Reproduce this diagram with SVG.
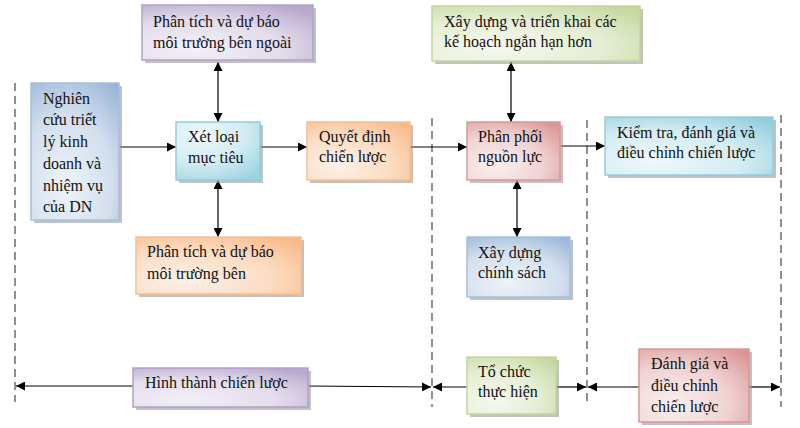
<svg xmlns="http://www.w3.org/2000/svg" width="800" height="428" viewBox="0 0 800 428">
<style>
text{font-family:'Liberation Serif','DejaVu Serif','Times New Roman',serif;font-size:16px;fill:#111}
.sh{fill:#9a9a9a;opacity:0.6}
.bx{stroke-width:1.5}
.pu{fill:url(#gPu);stroke:#b2a1c7}
.bl{fill:url(#gBl);stroke:#a7bfde}
.cy{fill:url(#gCy);stroke:#92cddc}
.or{fill:url(#gOr);stroke:#fabf8f}
.rd{fill:url(#gRd);stroke:#d99694}
.gr{fill:url(#gGr);stroke:#c3d69b}
.ln{stroke:#000;stroke-width:1.2;fill:none}
.dash{stroke:#555;stroke-width:1.3;stroke-dasharray:8,5;fill:none}
</style>
<defs>
<radialGradient id="gPu" cx="30%" cy="80%" r="95%"><stop offset="0" stop-color="#f3f0f7"/><stop offset="0.55" stop-color="#e3dcec"/><stop offset="1" stop-color="#b8a8cc"/></radialGradient>
<radialGradient id="gBl" cx="40%" cy="75%" r="95%"><stop offset="0" stop-color="#eef3f9"/><stop offset="0.55" stop-color="#d2dfee"/><stop offset="1" stop-color="#93b1d6"/></radialGradient>
<radialGradient id="gCy" cx="30%" cy="20%" r="95%"><stop offset="0" stop-color="#eef8fb"/><stop offset="0.55" stop-color="#d3ecf3"/><stop offset="1" stop-color="#9fd3e2"/></radialGradient>
<radialGradient id="gOr" cx="30%" cy="75%" r="95%"><stop offset="0" stop-color="#fdf1e7"/><stop offset="0.55" stop-color="#fcdcc1"/><stop offset="1" stop-color="#f9b987"/></radialGradient>
<radialGradient id="gRd" cx="30%" cy="75%" r="95%"><stop offset="0" stop-color="#faf0f0"/><stop offset="0.55" stop-color="#f0d2d2"/><stop offset="1" stop-color="#d99694"/></radialGradient>
<radialGradient id="gGr" cx="30%" cy="75%" r="95%"><stop offset="0" stop-color="#f6f9ef"/><stop offset="0.55" stop-color="#e4eed3"/><stop offset="1" stop-color="#c4d79f"/></radialGradient>
<radialGradient id="gCy2" cx="30%" cy="75%" r="95%"><stop offset="0" stop-color="#eef8fb"/><stop offset="0.55" stop-color="#d3ecf3"/><stop offset="1" stop-color="#92cddc"/></radialGradient>
<marker id="ah" viewBox="0 0 10 10" refX="10" refY="5" markerWidth="9" markerHeight="9" markerUnits="userSpaceOnUse" orient="auto-start-reverse"><path d="M0,0 L10,5 L0,10 z" fill="#000"/></marker>
</defs>

<g id="dividers">
<line class="dash" x1="15" y1="83" x2="15" y2="402"/>
<line class="dash" x1="432" y1="118" x2="432" y2="407"/>
<line class="dash" x1="587" y1="120" x2="587" y2="402"/>
<line class="dash" x1="781" y1="115" x2="781" y2="407"/>
</g>

<g id="connectors">
<line class="ln" x1="119" y1="147" x2="176" y2="147" marker-end="url(#ah)"/>
<line class="ln" x1="260" y1="147" x2="307" y2="147" marker-end="url(#ah)"/>
<line class="ln" x1="410" y1="147" x2="467" y2="147" marker-end="url(#ah)"/>
<line class="ln" x1="560" y1="146" x2="605" y2="146" marker-end="url(#ah)"/>
<line class="ln" x1="218" y1="62" x2="218" y2="122" marker-start="url(#ah)" marker-end="url(#ah)"/>
<line class="ln" x1="218" y1="180" x2="218" y2="237" marker-start="url(#ah)" marker-end="url(#ah)"/>
<line class="ln" x1="511" y1="62" x2="511" y2="122" marker-start="url(#ah)" marker-end="url(#ah)"/>
<line class="ln" x1="517" y1="180" x2="517" y2="237" marker-start="url(#ah)" marker-end="url(#ah)"/>
<line class="ln" x1="133" y1="386" x2="16" y2="386" marker-end="url(#ah)"/>
<line class="ln" x1="308" y1="386" x2="431" y2="387" marker-end="url(#ah)"/>
<line class="ln" x1="467" y1="387" x2="433" y2="387" marker-end="url(#ah)"/>
<line class="ln" x1="556" y1="387" x2="586" y2="387" marker-end="url(#ah)"/>
<line class="ln" x1="639" y1="387" x2="588" y2="387" marker-end="url(#ah)"/>
<line class="ln" x1="749" y1="387" x2="780" y2="387" marker-end="url(#ah)"/>
</g>

<g font-family="'Liberation Serif','DejaVu Serif',serif">
<g id="n-ptbn">
<rect class="sh" x="145" y="8" width="171" height="55"/>
<rect class="bx pu" x="142" y="5" width="171" height="55"/>
<text x="153" y="27">Phân tích và dự báo</text>
<text x="153" y="48">môi trường bên ngoài</text>
</g>

<g id="n-nghiencuu">
<rect class="sh" x="34" y="86" width="88" height="137"/>
<rect class="bx bl" x="31" y="83" width="88" height="137"/>
<text x="43" y="104">Nghiên</text>
<text x="43" y="125">cứu triết</text>
<text x="43" y="147">lý kinh</text>
<text x="43" y="169">doanh và</text>
<text x="43" y="191">nhiệm vụ</text>
<text x="43" y="212">của DN</text>
</g>

<g id="n-xetloai">
<rect class="sh" x="179" y="125" width="84" height="58"/>
<rect class="bx cy" x="176" y="122" width="84" height="58"/>
<text x="188" y="142">Xét loại</text>
<text x="188" y="163">mục tiêu</text>
</g>

<g id="n-quyetdinh">
<rect class="sh" x="310" y="125" width="103" height="58"/>
<rect class="bx or" x="307" y="122" width="103" height="58"/>
<text x="319" y="142">Quyết định</text>
<text x="319" y="162">chiến lược</text>
</g>

<g id="n-phanphoi">
<rect class="sh" x="470" y="125" width="93" height="58"/>
<rect class="bx rd" x="467" y="122" width="93" height="58"/>
<text x="478" y="142">Phân phối</text>
<text x="478" y="162">nguồn lực</text>
</g>

<g id="n-kiemtra">
<rect class="sh" x="608" y="120" width="168" height="58"/>
<rect class="bx" fill="url(#gCy2)" stroke="#92cddc" x="605" y="117" width="168" height="58"/>
<text x="617" y="138">Kiểm tra, đánh giá và</text>
<text x="617" y="158">điều chỉnh chiến lược</text>
</g>

<g id="n-xaydungkh">
<rect class="sh" x="435" y="9" width="208" height="55"/>
<rect class="bx gr" x="432" y="6" width="208" height="55"/>
<text x="444" y="27">Xây dựng và triển khai các</text>
<text x="444" y="47">kế hoạch ngắn hạn hơn</text>
</g>

<g id="n-ptbt">
<rect class="sh" x="139" y="240" width="165" height="57"/>
<rect class="bx or" x="136" y="237" width="165" height="57"/>
<text x="147" y="257">Phân tích và dự báo</text>
<text x="147" y="279">môi trường bên</text>
</g>

<g id="n-chinhsach">
<rect class="sh" x="470" y="240" width="103" height="60"/>
<rect class="bx bl" x="467" y="237" width="103" height="60"/>
<text x="478" y="258">Xây dựng</text>
<text x="478" y="278">chính sách</text>
</g>

<g id="n-hinhthanh">
<rect class="sh" x="136" y="371" width="175" height="39"/>
<rect class="bx pu" x="133" y="368" width="175" height="39"/>
<text x="145" y="388">Hình thành chiến lược</text>
</g>

<g id="n-tochuc">
<rect class="sh" x="470" y="360" width="89" height="57"/>
<rect class="bx gr" x="467" y="357" width="89" height="57"/>
<text x="478" y="377">Tổ chức</text>
<text x="478" y="397">thực hiện</text>
</g>

<g id="n-danhgia">
<rect class="sh" x="642" y="352" width="110" height="73"/>
<rect class="bx rd" x="639" y="349" width="110" height="73"/>
<text x="651" y="369">Đánh giá và</text>
<text x="651" y="391">điều chỉnh</text>
<text x="651" y="412">chiến lược</text>
</g>
</g>
</svg>
